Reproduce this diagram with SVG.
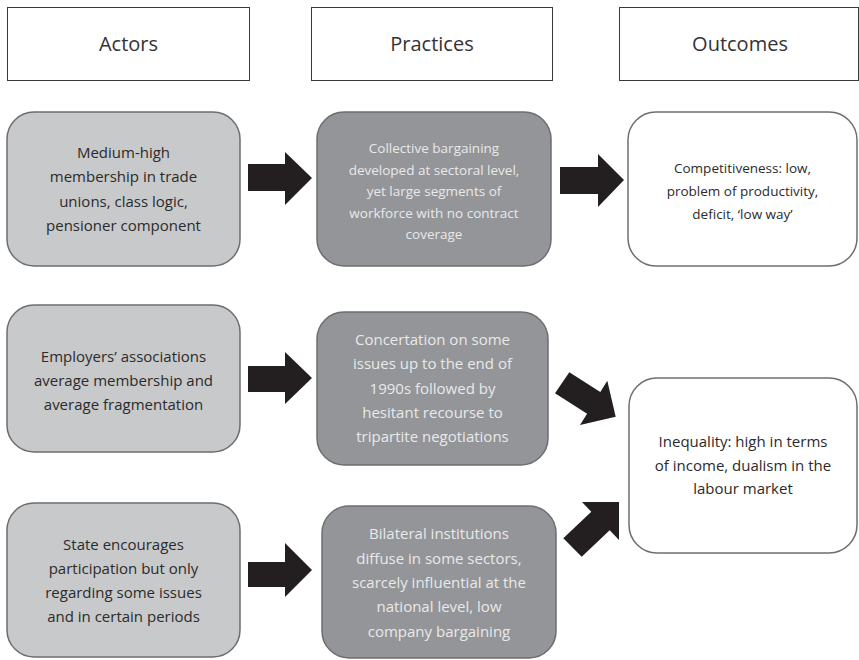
<svg xmlns="http://www.w3.org/2000/svg" width="859" height="660" viewBox="0 0 859 660">
<style>
.hdr{fill:#fff;stroke:#3a3a3a;stroke-width:1}
.htxt{font-family:"Open Sans","Noto Sans",sans-serif;font-size:20px;fill:#333;text-anchor:middle}
.actor{fill:#c8c9ca;stroke:#6d6e71;stroke-width:1.5}
.prac{fill:#939598;stroke:#6d6e71;stroke-width:1.5}
.out{fill:#fff;stroke:#6d6e71;stroke-width:1.5}
.t{font-family:"Open Sans","Noto Sans",sans-serif;text-anchor:middle}
.ta{font-size:15px;fill:#2b2b2b}
.tp{fill:#e9e9ea}
.to{fill:#2b2b2b}
.arr{fill:#231f20}
</style>
<rect width="859" height="660" fill="#fff"/>
<g id="hdr-actors"><rect class="hdr" x="7.5" y="7.5" width="242" height="73"/><text class="htxt" x="128.5" y="51">Actors</text></g>
<g id="hdr-practices"><rect class="hdr" x="311.5" y="7.5" width="241" height="73"/><text class="htxt" x="432" y="51">Practices</text></g>
<g id="hdr-outcomes"><rect class="hdr" x="619.5" y="7.5" width="239" height="73"/><text class="htxt" x="740" y="51">Outcomes</text></g>

<g id="actor1"><rect class="actor" x="7" y="112" width="233" height="154" rx="27"/>
<text class="t ta"><tspan x="123.5" y="158">Medium-high</tspan><tspan x="123.5" y="182">membership in trade</tspan><tspan x="123.5" y="207">unions, class logic,</tspan><tspan x="123.5" y="231">pensioner component</tspan></text></g>

<g id="actor2"><rect class="actor" x="7" y="305" width="233" height="147" rx="27"/>
<text class="t ta"><tspan x="123.5" y="362">Employers’ associations</tspan><tspan x="123.5" y="386">average membership and</tspan><tspan x="123.5" y="410">average fragmentation</tspan></text></g>

<g id="actor3"><rect class="actor" x="7" y="503" width="233" height="154" rx="27"/>
<text class="t ta"><tspan x="123.5" y="550">State encourages</tspan><tspan x="123.5" y="574">participation but only</tspan><tspan x="123.5" y="598">regarding some issues</tspan><tspan x="123.5" y="622">and in certain periods</tspan></text></g>

<g id="practice1"><rect class="prac" x="317" y="112" width="234" height="154" rx="27"/>
<text class="t tp" font-size="13.5"><tspan x="434" y="153">Collective bargaining</tspan><tspan x="434" y="174.5">developed at sectoral level,</tspan><tspan x="434" y="196">yet large segments of</tspan><tspan x="434" y="217.5">workforce with no contract</tspan><tspan x="434" y="239">coverage</tspan></text></g>

<g id="practice2"><rect class="prac" x="317" y="312" width="231" height="153" rx="27"/>
<text class="t tp" font-size="15"><tspan x="432.5" y="345">Concertation on some</tspan><tspan x="432.5" y="369">issues up to the end of</tspan><tspan x="432.5" y="393.5">1990s followed by</tspan><tspan x="432.5" y="418">hesitant recourse to</tspan><tspan x="432.5" y="442">tripartite negotiations</tspan></text></g>

<g id="practice3"><rect class="prac" x="322" y="506" width="234" height="152" rx="27"/>
<text class="t tp" font-size="15"><tspan x="439" y="539">Bilateral institutions</tspan><tspan x="439" y="564">diffuse in some sectors,</tspan><tspan x="439" y="588">scarcely influential at the</tspan><tspan x="439" y="612">national level, low</tspan><tspan x="439" y="637">company bargaining</tspan></text></g>

<g id="outcome1"><rect class="out" x="628" y="112" width="229" height="154" rx="28"/>
<text class="t to" font-size="13.5"><tspan x="742.5" y="173">Competitiveness: low,</tspan><tspan x="742.5" y="196">problem of productivity,</tspan><tspan x="742.5" y="219">deficit, ‘low way’</tspan></text></g>

<g id="outcome2"><rect class="out" x="629" y="378" width="228" height="175" rx="28"/>
<text class="t to" font-size="15"><tspan x="743" y="447">Inequality: high in terms</tspan><tspan x="743" y="470.5">of income, dualism in the</tspan><tspan x="743" y="494">labour market</tspan></text></g>

<g id="connectors">
<polygon class="arr" points="248,164 285,164 285,152 312,178 285,205 285,191 248,191"/>
<polygon class="arr" points="560,167 598,167 598,154 624,180 598,207 598,194 560,194"/>
<polygon class="arr" points="248,366 285,366 285,352 312,378 285,404 285,392 248,392"/>
<polygon class="arr" points="248,562 285,562 285,543 312,570 285,597 285,587 248,587"/>
<polygon class="arr" points="569.3,372.3 600.3,392.1 607.3,380.7 615.7,416.7 580,425 587.1,413.7 555,393.3"/>
<polygon class="arr" points="563.3,538.3 591.3,511.8 582,502 619,502 619,540 609.7,530.2 581.7,556.7"/>
</g>
</svg>
